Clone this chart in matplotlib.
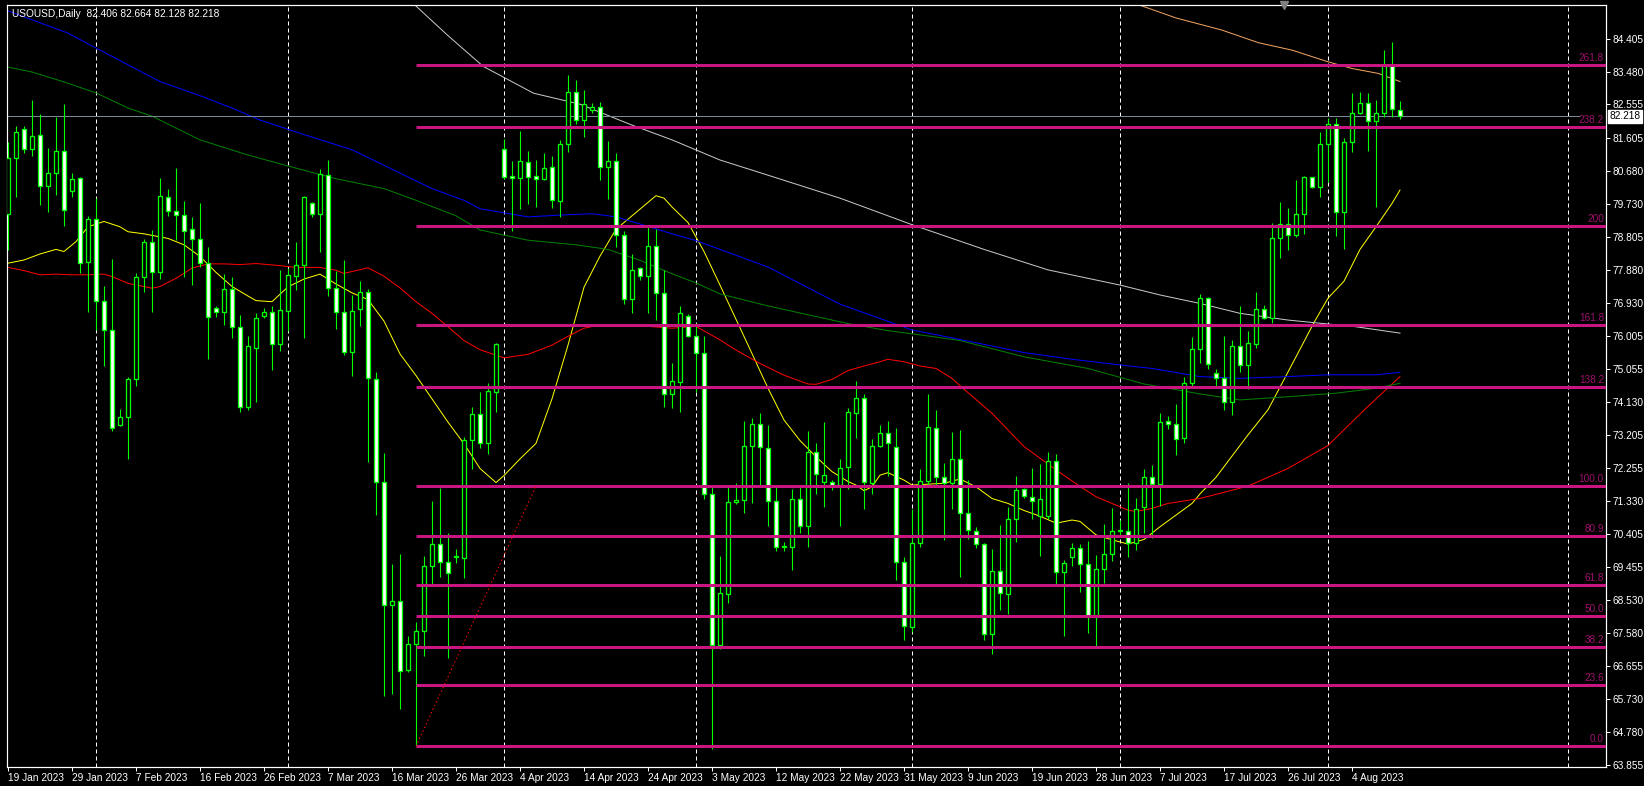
import numpy as np
import pandas as pd
import matplotlib
matplotlib.use("Agg")
import matplotlib.pyplot as plt

plt.rcParams['font.family'] = ['Liberation Sans', 'DejaVu Sans']

SYMBOL = "USOUSD,Daily"

# daily candles, 19 Jan 2023 .. 11 Aug 2023 (Sun-Fri bars, no Good Friday)
opens = [79.44, 81.03, 81.85, 81.28, 81.68, 80.23, 80.60, 81.23, 80.09, 80.46,
         78.08, 79.30, 76.98, 76.17, 73.49, 73.70, 74.77, 77.68, 78.65, 77.82,
         79.92, 79.55, 79.42, 79.02, 78.75, 78.06, 76.80, 76.67, 77.32, 76.25,
         74.00, 75.67, 76.56, 76.67, 75.76, 76.72, 77.69, 78.00, 79.75, 79.45,
         80.56, 77.36, 76.67, 75.54, 76.75, 77.23, 74.79, 71.87, 68.38, 68.51,
         66.55, 67.28, 67.66, 69.48, 70.11, 69.59, 69.74, 69.72, 73.05, 73.78,
         72.96, 74.41, 81.29, 80.52, 80.46, 80.92, 80.52, 80.45, 80.79, 79.83,
         81.42, 82.91, 82.12, 82.39, 82.47, 80.79, 80.94, 78.86, 77.06, 77.91,
         77.69, 78.55, 77.21, 74.37, 74.70, 76.56, 76.01, 75.51, 71.54, 67.25,
         68.71, 71.29, 71.35, 72.89, 73.52, 72.82, 71.34, 70.05, 70.02, 71.38,
         70.63, 72.71, 71.86, 71.86, 71.79, 72.28, 73.81, 74.23, 71.83, 72.89,
         73.24, 72.87, 69.59, 67.77, 70.13, 71.90, 73.40, 72.02, 71.83, 72.51,
         70.98, 70.47, 70.10, 67.57, 69.34, 68.70, 70.81, 71.66, 71.45, 70.90,
         70.90, 72.47, 69.33, 69.75, 69.99, 69.54, 68.04, 69.40, 69.83, 70.48,
         70.49, 70.15, 71.15, 72.00, 71.81, 73.60, 73.50, 73.10, 74.66, 75.62,
         77.07, 74.94, 74.80, 74.12, 75.72, 75.18, 75.77, 76.75, 76.50, 78.76,
         79.16, 78.86, 79.44, 80.49, 80.21, 81.42, 81.99, 79.52, 81.48, 82.30,
         82.58, 82.08, 82.30, 83.66, 82.406]
highs = [81.50, 81.93, 81.93, 82.68, 82.28, 81.31, 82.21, 82.57, 80.60, 80.50,
         79.40, 79.90, 77.42, 78.18, 73.92, 74.85, 77.79, 78.74, 79.00, 80.46,
         80.15, 80.75, 79.82, 79.36, 79.75, 78.51, 76.85, 77.75, 77.66, 76.58,
         76.00, 76.64, 76.80, 76.86, 77.88, 77.91, 78.67, 79.95, 79.78, 80.72,
         80.97, 77.83, 78.14, 77.17, 77.55, 77.33, 74.99, 72.68, 69.54, 69.84,
         67.50, 67.89, 69.76, 71.33, 71.69, 70.42, 69.98, 73.14, 73.98, 74.41,
         74.66, 75.80, 81.57, 80.94, 81.80, 81.23, 80.97, 81.17, 81.09, 81.55,
         83.38, 83.25, 82.97, 82.58, 82.62, 81.51, 81.19, 78.96, 78.33, 77.95,
         79.12, 79.02, 77.88, 75.23, 76.85, 76.62, 76.37, 76.01, 71.72, 69.77,
         71.75, 71.83, 73.60, 73.69, 73.81, 73.48, 71.78, 70.16, 71.66, 71.75,
         73.31, 72.96, 73.56, 71.92, 72.52, 73.95, 74.72, 74.36, 73.08, 73.48,
         73.59, 73.39, 69.75, 71.09, 72.23, 74.36, 73.90, 72.40, 73.28, 73.34,
         71.92, 70.58, 70.13, 69.96, 70.65, 71.17, 72.04, 71.69, 72.26, 72.38,
         72.71, 72.65, 69.66, 70.13, 70.11, 70.20, 69.80, 70.68, 71.12, 70.79,
         71.83, 71.40, 72.23, 72.35, 73.83, 73.74, 74.07, 74.85, 75.96, 77.19,
         77.11, 75.06, 76.00, 75.89, 76.85, 76.14, 77.25, 76.88, 79.19, 79.78,
         79.61, 80.41, 80.53, 80.51, 81.77, 82.17, 82.17, 81.59, 82.87, 82.90,
         82.87, 82.68, 84.09, 84.32, 82.664]
lows = [78.43, 79.92, 81.19, 81.08, 79.72, 79.52, 79.99, 79.12, 79.94, 77.77,
        76.69, 76.17, 75.16, 73.32, 73.45, 72.51, 74.58, 77.25, 76.69, 77.61,
        79.40, 78.72, 77.68, 77.44, 77.96, 75.34, 76.53, 76.31, 75.93, 73.86,
        73.91, 74.13, 76.52, 75.05, 75.56, 76.15, 77.31, 75.93, 79.38, 78.39,
        77.14, 76.20, 75.45, 74.88, 76.28, 72.42, 70.92, 65.82, 65.88, 65.43,
        66.50, 64.39, 66.93, 68.91, 69.17, 66.88, 69.57, 69.15, 72.24, 72.83,
        72.67, 73.84, 80.45, 78.98, 79.59, 79.74, 79.65, 80.41, 79.63, 79.37,
        81.22, 81.99, 81.64, 82.31, 80.41, 79.88, 78.52, 76.91, 76.65, 77.57,
        76.65, 76.46, 73.99, 73.97, 73.84, 75.96, 74.41, 71.38, 64.30, 67.15,
        68.45, 71.25, 70.98, 71.28, 71.78, 70.63, 69.91, 69.92, 69.38, 70.43,
        70.04, 71.53, 71.17, 71.64, 70.63, 71.68, 73.12, 71.09, 71.52, 72.86,
        72.04, 69.09, 67.39, 67.63, 70.04, 71.78, 71.78, 70.23, 71.10, 69.17,
        70.24, 69.99, 67.40, 67.00, 68.24, 68.13, 70.18, 71.40, 70.81, 69.78,
        70.81, 68.95, 67.50, 69.49, 68.76, 67.58, 67.20, 69.02, 69.64, 70.32,
        69.75, 69.94, 70.42, 70.27, 71.19, 73.38, 72.63, 72.96, 74.55, 75.23,
        75.06, 74.52, 73.90, 73.75, 74.99, 74.49, 75.65, 76.47, 76.38, 78.20,
        78.43, 78.79, 78.89, 80.19, 79.94, 80.37, 78.84, 78.46, 81.22, 82.28,
        81.24, 79.64, 82.19, 82.19, 82.128]
closes = [81.03, 81.76, 81.28, 81.66, 80.23, 80.60, 81.23, 79.57, 80.43, 78.06,
          79.30, 76.98, 76.17, 73.39, 73.70, 74.77, 77.68, 78.65, 77.82, 79.95,
          79.55, 79.43, 78.98, 78.75, 78.06, 76.53, 76.67, 77.32, 76.25, 74.00,
          75.71, 76.51, 76.68, 75.76, 76.74, 77.72, 78.00, 79.93, 79.45, 80.59,
          77.36, 76.67, 75.54, 76.70, 77.23, 74.80, 71.88, 68.38, 68.51, 66.51,
          67.28, 67.66, 69.48, 70.11, 69.59, 69.28, 69.76, 73.06, 73.78, 72.96,
          74.44, 75.76, 80.51, 80.46, 80.94, 80.51, 80.44, 80.76, 79.84, 81.42,
          82.91, 82.12, 82.56, 82.48, 80.79, 80.94, 78.86, 77.06, 77.88, 77.69,
          78.55, 77.21, 74.37, 74.73, 76.65, 75.99, 75.51, 71.54, 67.25, 68.72,
          71.31, 71.35, 72.89, 73.52, 72.85, 71.34, 70.04, 70.03, 71.38, 70.63,
          72.71, 72.08, 72.07, 71.79, 72.25, 73.84, 74.23, 71.86, 72.89, 73.24,
          72.96, 69.59, 67.80, 70.13, 71.90, 73.43, 72.02, 71.83, 72.51, 70.98,
          70.51, 70.11, 67.57, 69.34, 68.72, 70.81, 71.64, 71.47, 71.34, 71.38,
          72.47, 69.33, 69.57, 69.99, 69.54, 68.04, 69.40, 69.83, 70.49, 70.50,
          70.15, 71.11, 72.00, 71.81, 73.57, 73.51, 73.07, 74.66, 75.62, 77.07,
          75.20, 74.80, 74.12, 75.72, 75.18, 75.79, 76.75, 76.50, 78.76, 79.16,
          78.86, 79.44, 80.49, 80.21, 81.42, 81.99, 79.52, 81.48, 82.30, 82.58,
          82.08, 82.30, 83.66, 82.41, 82.218]

# moving averages (bar index, price)
yellow_x = [0, 2, 4, 6, 7, 8.5, 10, 12, 14, 15, 17, 20, 22, 24, 26, 28, 30, 31, 33, 35,
            37, 39, 41, 43, 45, 47, 49, 51, 53, 55, 57, 59, 61, 62, 64, 66, 68, 70, 72, 74,
            76, 78, 79, 81, 82, 83, 85, 87, 89, 92.8, 95, 97, 99, 101, 103, 105, 106, 107,
            108, 109, 110, 112, 113, 117, 119, 121, 123, 125, 127, 129, 131, 133, 134, 136,
            138, 140, 142, 144, 146, 148, 149, 151, 153, 155, 157.5, 160, 162, 163.2, 165,
            167, 169, 171, 173, 174]
yellow_y = [78.06, 78.15, 78.32, 78.45, 78.39, 78.67, 79.09, 79.24, 79.09, 78.95, 78.89,
            78.76, 78.58, 78.25, 77.80, 77.40, 77.13, 77.00, 76.97, 77.39, 77.61, 77.75,
            77.47, 77.22, 77.03, 76.42, 75.49, 74.88, 74.22, 73.56, 72.95, 72.25, 71.85,
            72.05, 72.52, 72.96, 74.22, 75.74, 77.38, 78.26, 79.02, 79.40, 79.59, 79.97,
            79.90, 79.65, 79.21, 78.39, 77.44, 75.60, 74.52, 73.62, 73.04, 72.58, 72.16,
            71.88, 71.78, 71.62, 71.73, 72.06, 72.13, 71.92, 71.78, 71.83, 71.95, 71.73,
            71.40, 71.26, 71.06, 70.90, 70.70, 70.79, 70.75, 70.37, 70.23, 70.11, 70.24,
            70.60, 70.93, 71.26, 71.53, 72.00, 72.60, 73.20, 73.91, 74.98, 75.84, 76.36,
            77.07, 77.55, 78.45, 79.09, 79.75, 80.13]
red_x = [0, 2, 4, 6, 8, 10, 12, 13, 15, 17, 18, 19, 21, 23, 25, 27, 29, 31, 34, 36, 39,
         41, 42, 45, 47, 49, 51, 53, 55, 57, 59, 62, 65, 68, 70, 72, 74, 77, 80, 83, 86,
         89, 91, 94, 97, 100, 101, 103, 105, 107, 109, 110, 112, 114, 116, 118, 119, 123,
         127, 131, 134, 136, 138, 140, 141, 143, 145, 149, 155, 160, 165, 169.5, 174]
red_y = [77.94, 77.85, 77.73, 77.75, 77.73, 77.73, 77.75, 77.68, 77.49, 77.40, 77.35,
         77.40, 77.63, 77.92, 78.04, 78.04, 78.02, 78.05, 77.99, 77.94, 77.94, 77.86,
         77.77, 77.93, 77.69, 77.36, 76.97, 76.64, 76.26, 75.87, 75.61, 75.38, 75.48,
         75.74, 75.99, 76.22, 76.31, 76.27, 76.27, 76.22, 76.27, 75.89, 75.60, 75.22,
         74.89, 74.64, 74.63, 74.77, 75.02, 75.15, 75.27, 75.34, 75.27, 75.15, 75.08,
         74.80, 74.59, 73.81, 72.87, 72.21, 71.74, 71.45, 71.26, 71.07, 71.03, 71.12,
         71.26, 71.40, 71.75, 72.25, 72.90, 73.90, 74.85]
green_x = [0, 3, 7, 11, 15, 18, 24, 30, 35, 41, 47, 51, 56, 59, 65, 71, 75, 79, 83, 86,
           89, 95, 100, 105, 110, 115, 119, 127, 135, 142, 145, 149, 154, 160, 166, 171, 174]
green_y = [83.61, 83.47, 83.19, 82.88, 82.45, 82.22, 81.55, 81.12, 80.81, 80.45, 80.17,
           79.84, 79.40, 79.00, 78.71, 78.58, 78.45, 78.14, 77.76, 77.50, 77.19, 76.85,
           76.60, 76.35, 76.15, 76.00, 75.87, 75.41, 75.08, 74.64, 74.52, 74.36, 74.19,
           74.28, 74.38, 74.52, 74.66]
blue_x = [0, 7.4, 11, 19, 24, 28, 31.5, 37, 43, 49, 53, 57, 59, 65, 69, 73, 76, 79, 83,
          86, 89, 95, 104, 113, 119, 127, 133, 139, 143, 149, 154, 160, 165, 171, 174]
blue_y = [85.20, 84.58, 84.15, 83.20, 82.80, 82.45, 82.11, 81.70, 81.27, 80.61, 80.17,
          79.84, 79.60, 79.37, 79.42, 79.46, 79.37, 79.17, 78.89, 78.70, 78.45, 77.95,
          76.90, 76.17, 75.90, 75.53, 75.34, 75.18, 75.08, 74.85, 74.80, 74.85, 74.90,
          74.90, 74.97]
gray_x = [50.7, 55, 59.4, 65.7, 71.5, 77.75, 83, 89, 95, 104, 113, 122, 130, 139, 144,
          149, 154, 160, 164, 168.5, 174]
gray_y = [85.40, 84.50, 83.63, 82.87, 82.56, 81.99, 81.55, 80.98, 80.55, 79.90, 79.15,
          78.45, 77.87, 77.44, 77.16, 76.92, 76.64, 76.45, 76.36, 76.26, 76.08]
orange_x = [141, 146, 151.7, 156.3, 160.5, 165, 168, 171.3, 174]
orange_y = [85.40, 85.00, 84.66, 84.30, 84.09, 83.76, 83.57, 83.43, 83.20]

# fibonacci retracement / expansion
fib_low, fib_high = 64.39, 71.75
fib_start, fib_end = 51, 66
fib_levels = [0.0, 23.6, 38.2, 50.0, 61.8, 80.9, 100.0, 138.2, 161.8, 200.0, 238.2, 261.8]
fib_labels = ["0.0", "23.6", "38.2", "50.0", "61.8", "80.9", "100.0", "138.2", "161.8",
              "200", "238.2", "261.8"]

bid = 82.218
y_ticks = [84.405, 83.480, 82.555, 81.605, 80.680, 79.730, 78.805, 77.880, 76.930,
           76.005, 75.055, 74.130, 73.205, 72.255, 71.330, 70.405, 69.455, 68.530,
           67.580, 66.655, 65.730, 64.780, 63.855]

W, H = 1644, 786
PX = 0.72  # one pixel in points at dpi 100
GREEN = "#00FF00"
FIB = "#C8157F"
FIB_TXT = "#A0106E"

n = len(opens)
dates = pd.bdate_range("2023-01-19", periods=n, freq="C",
                       weekmask="Sun Mon Tue Wed Thu Fri", holidays=["2023-04-07"])
x = np.arange(n)
o, h, l, c = (np.array(v) for v in (opens, highs, lows, closes))

fig = plt.figure(figsize=(W / 100, H / 100), dpi=100, facecolor="black")
ax = fig.add_axes([7 / W, 19 / H, 1599 / W, 762 / H])
ax.set_facecolor("black")
x_max = 199.75
ax.set_xlim(-0.125, x_max)
ax.set_ylim(63.80, 85.367)

# month separators (last one sits in the empty shift area)
months = [i for i in range(1, n) if dates[i].month != dates[i - 1].month] + [195]
for m in months:
    ax.axvline(m, color="white", lw=PX, ls=(0, (4, 3)), zorder=1)

# moving averages
ax.plot(yellow_x, yellow_y, color="#FFFF00", lw=PX, zorder=2)
ax.plot(red_x, red_y, color="#FF0000", lw=PX, zorder=2)
ax.plot(green_x, green_y, color="#008000", lw=PX, zorder=2)
ax.plot(blue_x, blue_y, color="#0000FF", lw=PX, zorder=2)
ax.plot(gray_x, gray_y, color="#C8C8C8", lw=PX, zorder=2)
ax.plot(orange_x, orange_y, color="#F4A460", lw=PX, zorder=2)

# bid line
ax.hlines(bid, -0.125, 196.5, color="#778899", lw=PX, zorder=2)

# candles
bull = c >= o
ax.vlines(x, l, h, color=GREEN, lw=PX * 1.1, zorder=3)
ax.bar(x, np.abs(c - o), bottom=np.minimum(o, c), width=0.62,
       color=np.where(bull, "black", "white"), edgecolor=GREEN,
       linewidth=PX * 1.3, zorder=4)

# fibo object
fib_prices = [fib_low + lv / 100 * (fib_high - fib_low) for lv in fib_levels]
ax.hlines(fib_prices, fib_start, x_max, color=FIB, lw=PX * 3, zorder=5)
ax.plot([fib_start, fib_end], [fib_low, fib_high], color="#FF0000", lw=PX,
        ls=(0, (1.5, 2.5)), zorder=5)
for p, lab in zip(fib_prices, fib_labels):
    ax.text(x_max - 0.25, p + 0.06, lab, ha="right", va="bottom", color=FIB_TXT,
            fontsize=7.2, zorder=6)

# axes frame and ticks
for s in ax.spines.values():
    s.set_color("white")
    s.set_linewidth(PX * 1.2)
ax.yaxis.tick_right()
ax.set_yticks(y_ticks)
ax.set_yticklabels([f"{v:.3f}" for v in y_ticks])
xt = list(range(0, n, 8))
ax.set_xticks(xt)
ax.set_xticklabels([f"{dates[i].day} {dates[i]:%b %Y}" for i in xt])
for t in ax.get_xticklabels():
    t.set_horizontalalignment("left")
ax.tick_params(axis="both", colors="white", labelsize=7.3, length=3, width=PX)
ax.tick_params(axis="y", pad=2)
ax.tick_params(axis="x", pad=1.5)

# bid price tag on the scale
ax.text(x_max + 0.45, bid, f"{bid:.3f}", ha="left", va="center", color="black",
        fontsize=7.3, clip_on=False, zorder=7,
        bbox=dict(facecolor="white", edgecolor="white", boxstyle="square,pad=0.15"))

# chart shift marker
ax.plot([159.5], [85.367], marker="v", color="#808080", markersize=6, clip_on=False,
        zorder=7)

fig.text(12 / W, 1 - 14 / H,
         f"{SYMBOL}  {opens[-1]:.3f} {highs[-1]:.3f} {lows[-1]:.3f} {closes[-1]:.3f}",
         color="white", fontsize=7.3, va="center", ha="left")

fig.savefig("out.png", dpi=100, facecolor="black")
